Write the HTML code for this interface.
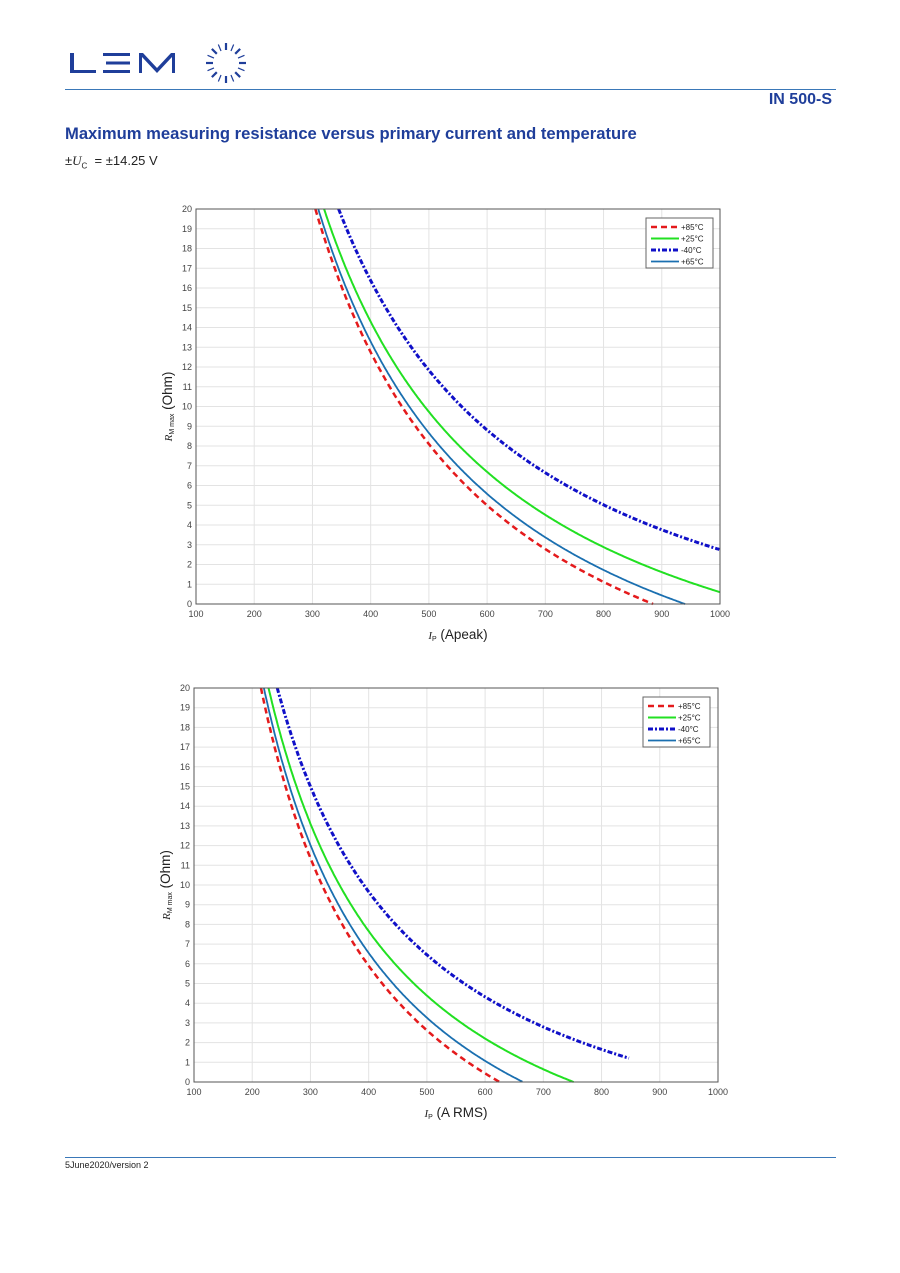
<!DOCTYPE html>
<html><head><meta charset="utf-8"><style>
body{margin:0;background:#fff;font-family:"Liberation Sans",sans-serif;}
#w{position:relative;width:900px;height:1273px;overflow:hidden;}
.t{position:absolute;white-space:nowrap;}
</style></head><body><div id="w">
<svg width="900" height="1273" style="position:absolute;left:0;top:0" id="s">
<g fill="#1f3e9a">
<rect x="70" y="53" width="4" height="20"/><rect x="70" y="70" width="26" height="3"/>
<rect x="103" y="53" width="27" height="3"/><rect x="106" y="61.5" width="24" height="3"/><rect x="103" y="70" width="27" height="3"/>
<path d="M139 73V53h4l14 15 14-15h4v20h-3V57l-15 16-15-16v16z"/>
</g>
<g id="sun" stroke="#1f3e9a" stroke-width="2"></g>
<rect x="65" y="89" width="771" height="1" fill="#3a78b8"/>
<rect x="65" y="1157" width="771" height="1" fill="#3a78b8"/>
<g id="c1"></g><g id="c2"></g>
</svg>
<div class="t" style="right:68px;top:91px;font-size:16px;font-weight:bold;color:#1f3e9a">IN 500-S</div>
<div class="t" style="left:65px;top:124px;font-size:16.6px;font-weight:bold;color:#1f3e9a">Maximum measuring resistance versus primary current and temperature</div>
<div class="t" style="left:65px;top:153px;font-size:13px;color:#222">±<i style="font-family:'Liberation Serif'">U</i><sub style="font-size:8px">C</sub> &nbsp;= ±14.25 V</div>
<div class="t" style="left:65px;top:1160px;font-size:9px;color:#222">5June2020/version 2</div>
</div>
<script>
var NS="http://www.w3.org/2000/svg";
function el(p,t,a,txt){var e=document.createElementNS(NS,t);for(var k in a)e.setAttribute(k,a[k]);if(txt!=null)e.textContent=txt;p.appendChild(e);return e;}
var sun=document.getElementById('sun');
for(var i=0;i<16;i++){var a=i*Math.PI/8,cx=226,cy=63;el(sun,'line',{x1:cx+13*Math.cos(a),y1:cy+13*Math.sin(a),x2:cx+20*Math.cos(a),y2:cy+20*Math.sin(a),'stroke-width':i%2?1.2:2.2});}
function chart(g,L,R,T,B,curves,xl,legX,legY){
 var X=function(v){return L+(v-100)/900*(R-L)},Y=function(v){return B-v/20*(B-T)};
 for(var v=100;v<=1000;v+=100){el(g,'line',{x1:X(v),y1:T,x2:X(v),y2:B,stroke:'#e3e3e3'});el(g,'text',{x:X(v),y:B+13,'font-size':9,'text-anchor':'middle',fill:'#444','font-family':'Liberation Sans'},v);}
 for(var v=0;v<=20;v++){el(g,'line',{x1:L,y1:Y(v),x2:R,y2:Y(v),stroke:'#e3e3e3'});el(g,'text',{x:L-4,y:Y(v)+3,'font-size':9,'text-anchor':'end',fill:'#444','font-family':'Liberation Sans'},v);}
 curves.forEach(function(c){var d='';for(var I=c.i0;I<=c.i1+0.01;I+=2){var r=c.k/I-c.c;if(r<0)r=0;d+=(d?'L':'M')+X(I).toFixed(1)+' '+Y(r).toFixed(1);}
  el(g,'path',{d:d,fill:'none',stroke:c.col,'stroke-width':c.w,'stroke-dasharray':c.da||''});});
 el(g,'rect',{x:L,y:T,width:R-L,height:B-T,fill:'none',stroke:'#555'});
 el(g,'rect',{x:legX,y:legY,width:67,height:50,fill:'#fff',stroke:'#666'});
 curves.forEach(function(c,i){var yy=legY+9+i*11.5;el(g,'line',{x1:legX+5,y1:yy,x2:legX+33,y2:yy,stroke:c.col,'stroke-width':c.w,'stroke-dasharray':c.da||''});el(g,'text',{x:legX+35,y:yy+3,'font-size':8,fill:'#222','font-family':'Liberation Sans'},c.n);});
 var cx=(L+R)/2;var t=el(g,'text',{x:cx,y:B+35,'font-size':13.5,'text-anchor':'middle',fill:'#222','font-family':'Liberation Sans'});
 t.innerHTML='<tspan font-style="italic" font-family="Liberation Serif" font-size="11">I</tspan><tspan font-size="7" dy="2">P</tspan><tspan dy="-2"> '+xl+'</tspan>';
 var yl=el(g,'text',{transform:'translate('+(L-24)+','+((T+B)/2)+') rotate(-90)','font-size':13.5,'text-anchor':'middle',fill:'#222','font-family':'Liberation Sans'});
 yl.innerHTML='<tspan font-style="italic" font-family="Liberation Serif" font-size="11">R</tspan><tspan font-size="7" dy="2">M max</tspan><tspan dy="-2"> (Ohm)</tspan>';
}
function fit(i20,i2,r2){var k=(20-r2)/(1/i20-1/i2);return {k:k,c:k/i20-20};}
function C(n,col,w,da,i20,iz,rz,iend){var f=fit(i20,iz,rz);return {n:n,col:col,w:w,da:da,k:f.k,c:f.c,i0:i20,i1:iend};}
chart(document.getElementById('c1'),196,720,209,604,[
 C('+85°C','#e41a1c',2.5,'6 4',305,885,0,885),
 C('+25°C','#22e022',2,'',320,1000,0.6,1000),
 C('-40°C','#1010c8',3,'5 2 2 2',345,1000,2.75,1000),
 C('+65°C','#1a6fb0',1.8,'',310,940,0,940)],'(Apeak)',646,218);
chart(document.getElementById('c2'),194,718,688,1082,[
 C('+85°C','#e41a1c',2.5,'6 4',215,625,0,625),
 C('+25°C','#22e022',2,'',228,752,0,752),
 C('-40°C','#1010c8',3,'5 2 2 2',243,848,1.2,848),
 C('+65°C','#1a6fb0',1.8,'',220,665,0,665)],'(A RMS)',643,697);
</script>
</body></html>
